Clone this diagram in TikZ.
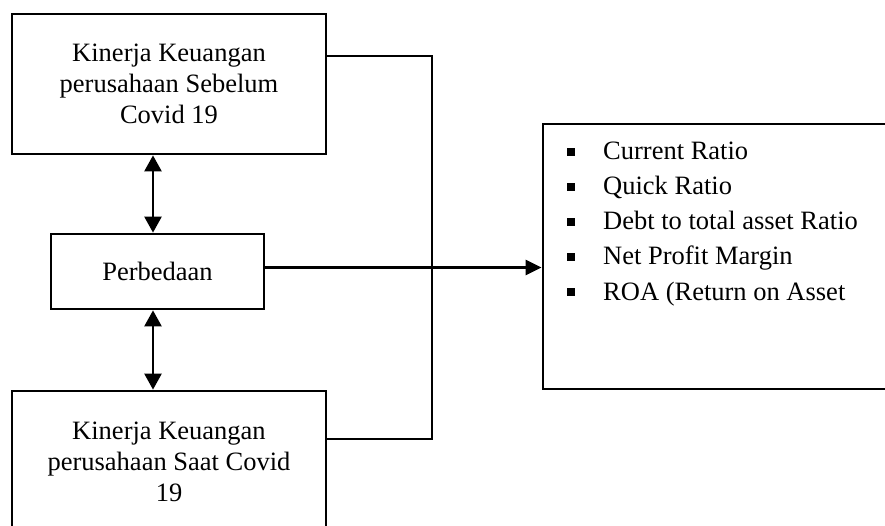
\documentclass[tikz,border=0pt]{standalone}
\usepackage{fontspec}
\setmainfont{Liberation Serif}
\usetikzlibrary{arrows.meta}
\begin{document}
\begin{tikzpicture}[x=1pt,y=-1pt,
  box/.style={draw, line width=2.8pt, inner sep=0pt, align=center, font=\fontsize{26.5}{31}\selectfont},
  item/.style={anchor=base west, inner sep=0pt, font=\fontsize{26.5}{31}\selectfont},
  thinline/.style={line width=1.1pt},
  arr/.style={line width=2.5pt, -{Triangle[length=16pt,width=15pt]}},
  darr/.style={line width=2.5pt, {Triangle[length=16pt,width=17pt]}-{Triangle[length=16pt,width=17pt]}},
  bullet/.style={fill=black}
]
\useasboundingbox (0,0) rectangle (885,526);
\clip (0,0) rectangle (885,526);

\node[box, minimum width=314pt, minimum height=140pt] (top) at (169,84) {Kinerja Keuangan\\perusahaan Sebelum\\Covid 19};
\node[box, minimum width=213pt, minimum height=75pt] (perb) at (157.5,271.5) {Perbedaan};
\node[box, minimum width=314pt, minimum height=141pt] (bot) at (169,461.5) {Kinerja Keuangan\\perusahaan Saat Covid\\19};
\node[box, minimum width=344pt, minimum height=265pt] (res) at (715,256.5) {};

\node[item] (i1) at (603,160) {Current Ratio};
\node[item] (i2) at (603,195) {Quick Ratio};
\node[item] (i3) at (603,230) {Debt to total asset Ratio};
\node[item] (i4) at (603,265) {Net Profit Margin};
\node[item] (i5) at (603,300) {ROA (Return on Asset};
\foreach \k in {0,...,4}{
  \fill[bullet] (567,148+35*\k) rectangle (575,156+35*\k);
}

\coordinate (c1) at (432,56);
\coordinate (c2) at (432,439);
\coordinate (ax) at (153,0);
\draw[thinline] (c1 -| top.east) -- (c1) -- (c2) -- (c2 -| bot.east);
\draw[arr] ([yshift=4pt]perb.east) -- ([yshift=4pt]perb.east -| res.west);
\draw[darr] (ax |- top.south) -- (ax |- perb.north);
\draw[darr] (ax |- perb.south) -- (ax |- bot.north);
\end{tikzpicture}
\end{document}
